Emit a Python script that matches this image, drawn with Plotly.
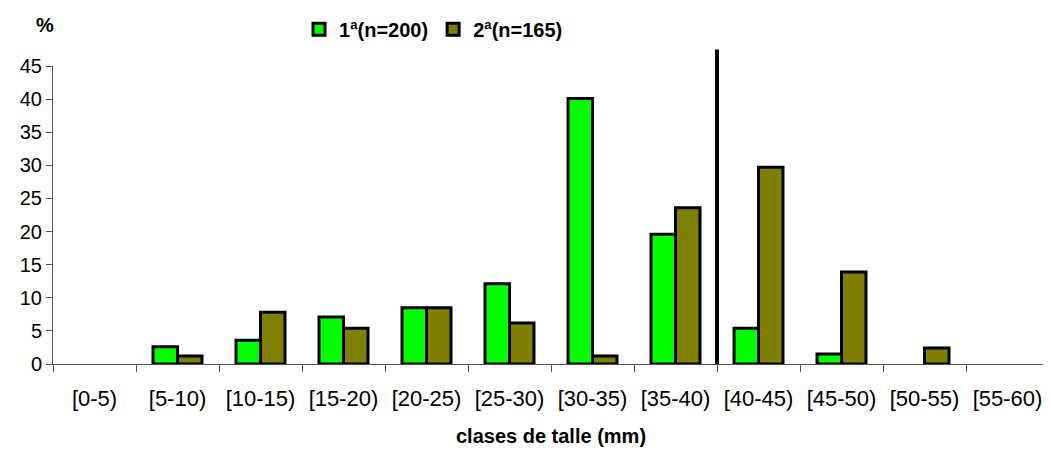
import plotly.graph_objects as go

categories = ["[0-5)", "[5-10)", "[10-15)", "[15-20)", "[20-25)", "[25-30)",
              "[30-35)", "[35-40)", "[40-45)", "[45-50)", "[50-55)", "[55-60)"]
serie1_name = "1ª(n=200)"
serie2_name = "2ª(n=165)"
serie1 = [0, 2.6, 3.6, 7.1, 8.5, 12.1, 40.1, 19.6, 5.4, 1.5, 0, 0]
serie2 = [0, 1.2, 7.8, 5.4, 8.5, 6.2, 1.2, 23.6, 29.7, 13.9, 2.4, 0]
y_ticks = [0, 5, 10, 15, 20, 25, 30, 35, 40, 45]
cut_position = 7.5  # boundary between [35-40) and [40-45)

FONT = "Liberation Sans, Arial, sans-serif"


def shown(values):
    # empty classes draw no bar at all
    return [v if v else None for v in values]


fig = go.Figure()
fig.add_trace(go.Bar(x=categories, y=shown(serie1), name=serie1_name,
                     marker=dict(color="#00FF00", line=dict(color="black", width=3))))
fig.add_trace(go.Bar(x=categories, y=shown(serie2), name=serie2_name,
                     marker=dict(color="#808000", line=dict(color="black", width=3))))

fig.add_shape(type="line", xref="x", yref="paper", x0=cut_position, x1=cut_position,
              y0=0, y1=1.055, line=dict(color="black", width=4))

fig.add_annotation(text="<b>%</b>", xref="paper", yref="paper", x=-0.008, y=1.136,
                   xanchor="center", yanchor="middle", showarrow=False,
                   font=dict(family=FONT, size=20, color="black"))

# the page body adds an 8px offset, so the figure is 8px smaller on each axis
fig.update_layout(
    width=1043, height=446,
    margin=dict(l=45, r=2, t=55, b=90),
    paper_bgcolor="white", plot_bgcolor="white",
    barmode="group", bargap=0.41, bargroupgap=0,
    font=dict(family=FONT, size=20, color="black"),
    showlegend=True,
    legend=dict(orientation="h", x=0.247, y=1.123, xanchor="left", yanchor="middle",
                font=dict(family=FONT, size=20, color="black", weight="bold"),
                itemwidth=30, traceorder="normal", bgcolor="rgba(0,0,0,0)"),
    xaxis=dict(type="category", tickson="boundaries", ticks="outside", ticklen=7,
               tickcolor="#555", showline=True, linecolor="#555", linewidth=1,
               showgrid=False, zeroline=False, tickfont=dict(size=22),
               ticklabelstandoff=15,
               title=dict(text="<b>clases de talle (mm)</b>", standoff=18,
                          font=dict(size=20))),
    yaxis=dict(range=[0, 45], tickvals=y_ticks, ticks="outside", ticklen=6,
               tickcolor="#555", showline=True, linecolor="#555", linewidth=1,
               showgrid=False, zeroline=False, tickfont=dict(size=20)),
)

fig.write_html("out.html")
